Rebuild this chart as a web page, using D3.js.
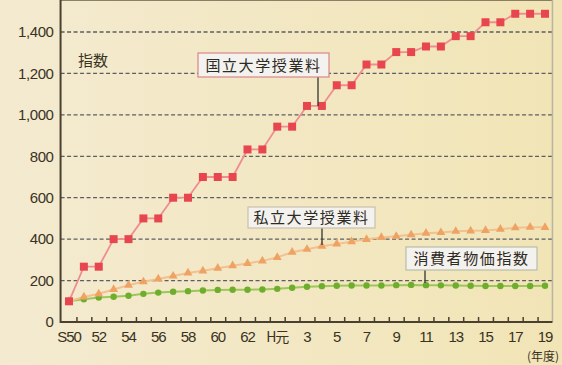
<!DOCTYPE html>
<html>
<head>
<meta charset="utf-8">
<script src="https://cdn.jsdelivr.net/npm/d3@7"></script>
<style>
  body { margin: 0; background: #f2e7bd; }
  svg { display: block; }
</style>
</head>
<body>
<div id="chart-area"></div>
<script>
// Dane (indeks, S50 = 100)
var years = d3.range(0, 33); // S50 (1975) .. H19 (2007)
var tickLabels = ["S50", "52", "54", "56", "58", "60", "62", "H元", "3", "5", "7", "9", "11", "13", "15", "17", "19"];
var yTicks = [0, 200, 400, 600, 800, 1000, 1200, 1400];

var national = [100, 267, 267, 400, 400, 500, 500, 600, 600, 700, 700, 700, 833, 833, 943, 943,
	1043, 1043, 1143, 1143, 1243, 1243, 1303, 1303, 1330, 1330, 1380, 1380, 1447, 1447, 1488, 1488, 1488];
var privateU = [100, 121, 136, 157, 178, 194, 208, 222, 237, 247, 260, 272, 283, 295, 312, 337,
	351, 366, 377, 388, 399, 408, 414, 421, 429, 432, 438, 440, 442, 448, 455, 458, 457];
var cpi = [100, 110, 118, 122, 127, 136, 142, 146, 149, 152, 155, 156, 156, 157, 160, 165,
	170, 173, 175, 176, 176, 176, 178, 179, 178, 177, 176, 175, 174, 174, 174, 174, 175];

var W = 562, H = 365;

var svg = d3.select("#chart-area")
	.append("svg")
	.attr("width", W)
	.attr("height", H);

// tło
var bg = svg.append("defs").append("linearGradient")
	.attr("id", "bg").attr("x1", 0).attr("x2", 1).attr("y1", 0).attr("y2", 0);
bg.append("stop").attr("offset", "0%").attr("stop-color", "#f4ead0");
bg.append("stop").attr("offset", "100%").attr("stop-color", "#f1e5b6");
svg.append("rect").attr("width", W).attr("height", H).attr("fill", "url(#bg)");

// Skale
var x = d3.scaleLinear().domain([0, 32]).range([69, 545]);
var y = d3.scaleLinear().domain([0, 1400]).range([322, 32]);

var left = x(-0.5) - 1, right = x(32.5), top = 10, bottom = y(0);

svg.append("rect")
	.attr("x", left).attr("y", top)
	.attr("width", right - left).attr("height", bottom - top)
	.attr("fill", "#ebebea");

// siatka
svg.append("g").selectAll("line")
	.data(yTicks.filter(d => d > 0))
	.enter().append("line")
	.attr("x1", left).attr("x2", right)
	.attr("y1", d => y(d)).attr("y2", d => y(d))
	.attr("stroke", "#5e5e62")
	.attr("stroke-width", 1.3)
	.attr("stroke-dasharray", "4,2.5");

// ramka
svg.append("line").attr("x1", left).attr("x2", right).attr("y1", top).attr("y2", top)
	.attr("stroke", "#6a5d45").attr("stroke-width", 1.5);
svg.append("line").attr("x1", right).attr("x2", right).attr("y1", top).attr("y2", bottom)
	.attr("stroke", "#b9b3a4").attr("stroke-width", 1.5);
svg.append("line").attr("x1", left).attr("x2", left).attr("y1", top).attr("y2", bottom + 1)
	.attr("stroke", "#4a4030").attr("stroke-width", 2);

// Osie
var font = "'Liberation Sans', Arial, sans-serif";
var jp = "'Noto Sans CJK JP', sans-serif";
var txtColor = "#3a3322";

var yAxisCall = d3.axisLeft(y)
	.tickValues(yTicks)
	.tickSize(0)
	.tickPadding(7)
	.tickFormat(d3.format(","));
var yAxis = svg.append("g")
	.attr("transform", "translate(" + left + ",0)")
	.call(yAxisCall);
yAxis.select(".domain").remove();
yAxis.selectAll("text")
	.attr("font-family", font).attr("font-size", "15px")
	.attr("letter-spacing", "-0.4px")
	.attr("fill", txtColor);

// ticki między latami (do góry)
var xAxisCall = d3.axisTop(x)
	.tickValues(d3.range(-0.5, 33, 1).slice(1, 33))
	.tickSize(5)
	.tickFormat("");
var xAxis = svg.append("g")
	.attr("transform", "translate(0," + bottom + ")")
	.call(xAxisCall);
xAxis.select(".domain").remove();
xAxis.selectAll("line").attr("stroke", "#4a4030").attr("stroke-width", 1.5);
svg.append("line").attr("x1", left).attr("x2", right).attr("y1", bottom).attr("y2", bottom)
	.attr("stroke", "#4a4030").attr("stroke-width", 2);

svg.append("g").selectAll("text")
	.data(tickLabels)
	.enter().append("text")
	.attr("x", (d, i) => x(i * 2))
	.attr("y", bottom + 20)
	.attr("text-anchor", "middle")
	.attr("font-family", (d) => d === "H元" ? jp : font)
	.attr("font-size", (d) => d === "H元" ? "14px" : "15px")
	.attr("letter-spacing", "-1px")
	.attr("fill", txtColor)
	.text(d => d);

svg.append("text")
	.attr("x", 559).attr("y", 361)
	.attr("text-anchor", "end")
	.attr("font-family", jp).attr("font-size", "12px")
	.attr("fill", txtColor)
	.text("(年度)");

svg.append("text")
	.attr("x", 78).attr("y", 66)
	.attr("font-family", jp).attr("font-size", "15px")
	.attr("fill", txtColor)
	.text("指数");

// Linie
var line = d3.line().x((d, i) => x(years[i])).y(d => y(d));

// CPI
svg.append("path").datum(cpi).attr("d", line)
	.attr("fill", "none").attr("stroke", "#9cc75a").attr("stroke-width", 2);
svg.append("g").selectAll("circle")
	.data(cpi).enter().append("circle")
	.attr("cx", (d, i) => x(years[i])).attr("cy", d => y(d))
	.attr("r", 3.2).attr("fill", "#6fae2c");

// prywatne
svg.append("path").datum(privateU).attr("d", line)
	.attr("fill", "none").attr("stroke", "#f3c08e").attr("stroke-width", 2);
var tri = d3.symbol().type(d3.symbolTriangle).size(34);
svg.append("g").selectAll("path")
	.data(privateU).enter().append("path")
	.attr("d", tri)
	.attr("transform", (d, i) => "translate(" + x(years[i]) + "," + y(d) + ")")
	.attr("fill", "#eea264");

// państwowe
svg.append("path").datum(national).attr("d", line)
	.attr("fill", "none").attr("stroke", "#ee8e92").attr("stroke-width", 1.8);
svg.append("g").selectAll("rect")
	.data(national).enter().append("rect")
	.attr("x", (d, i) => x(years[i]) - 4).attr("y", d => y(d) - 4)
	.attr("width", 8).attr("height", 8)
	.attr("fill", "#e8464f");

// Etykiety serii
function label(text, bx, by, bw, bh, border, lx, ly2) {
	svg.append("line")
		.attr("x1", lx).attr("x2", lx).attr("y1", by + bh).attr("y2", ly2)
		.attr("stroke", "#333").attr("stroke-width", 1.3);
	svg.append("rect")
		.attr("x", bx).attr("y", by).attr("width", bw).attr("height", bh)
		.attr("fill", "#f4f2ee").attr("stroke", border).attr("stroke-width", 1.2);
	svg.append("text")
		.attr("x", bx + bw / 2).attr("y", by + bh / 2 + 5.5)
		.attr("text-anchor", "middle")
		.attr("font-family", jp).attr("font-size", "15px")
		.attr("letter-spacing", "1.6px")
		.attr("fill", "#2e2a24")
		.text(text);
}
label("国立大学授業料", 198, 53, 131, 24, "#d9868c", 318, 106);
label("私立大学授業料", 248, 207, 127, 21, "#c9c0b0", 322, 245);
label("消費者物価指数", 406, 247, 131, 23, "#b8bcaa", 425, 283);
</script>
</body>
</html>
